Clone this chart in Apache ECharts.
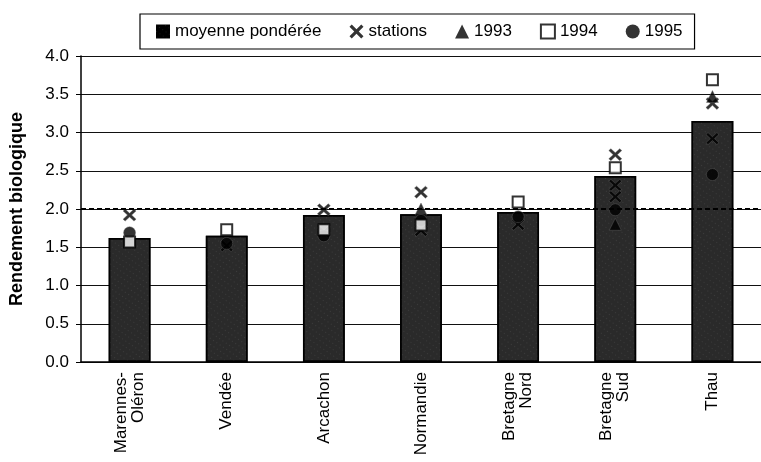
<!DOCTYPE html>
<html>
<head>
<meta charset="utf-8">
<script src="https://cdn.jsdelivr.net/npm/echarts@6/dist/echarts.min.js"></script>
<style>
  html, body { margin: 0; background: #fff; }
  #chart { width: 761px; height: 462px; }
</style>
</head>
<body>
<div id="chart"></div>
<script>
// sites
const regions = ['Marennes-\nOléron', 'Vendée', 'Arcachon', 'Normandie', 'Bretagne\nNord', 'Bretagne\nSud', 'Thau'];
// rendement moyen pondéré (barres)
const moyenne = [1.62, 1.65, 1.92, 1.93, 1.96, 2.43, 3.15];
// [site, valeur]
const stations = [[0, 1.92], [1, 1.52], [2, 1.99], [2, 1.70], [3, 2.22], [3, 1.72], [4, 1.80],
  [5, 2.71], [5, 2.31], [5, 2.16], [6, 3.38], [6, 2.92]];
const an1993 = [[3, 2.00], [5, 1.80], [6, 3.47]];
const an1994 = [[0, 1.57], [1, 1.73], [2, 1.73], [3, 1.79], [4, 2.09], [5, 2.54], [6, 3.69]];
const an1995 = [[0, 1.69], [1, 1.55], [2, 1.65], [3, 1.85], [4, 1.90], [5, 1.99], [6, 2.45]];
const seuil = 2.0;

const crossPath = 'path://M0 1.6L1.6 0L5 3.4L8.4 0L10 1.6L6.6 5L10 8.4L8.4 10L5 6.6L1.6 10L0 8.4L3.4 5Z';
const font = 'Liberation Sans, Arial, sans-serif';

const chart = echarts.init(document.getElementById('chart'));

const option = {
  animation: false,
  textStyle: { fontFamily: font, color: '#000' },
  legend: {
    left: 140,
    top: 14,
    padding: [9, 12, 9, 16],
    borderColor: '#000',
    borderWidth: 1.2,
    itemGap: 28,
    itemWidth: 14,
    itemHeight: 14,
    textStyle: { fontSize: 17, color: '#000', fontFamily: font },
    data: [
      { name: 'moyenne pondérée', icon: 'rect', itemStyle: { color: '#000', borderWidth: 0 } },
      { name: 'stations', icon: crossPath, itemStyle: { color: '#000', borderWidth: 0 } },
      { name: '1993', icon: 'triangle', itemStyle: { color: '#000', borderWidth: 0 } },
      { name: '1994', icon: 'rect', itemStyle: { color: '#fff', borderColor: '#000', borderWidth: 2 } },
      { name: '1995', icon: 'circle', itemStyle: { color: '#000', borderWidth: 0 } }
    ]
  },
  grid: { left: 81, top: 56, width: 693, height: 306 },
  xAxis: {
    type: 'category',
    data: regions,
    axisLine: { lineStyle: { color: '#000', width: 1.5 } },
    axisTick: { inside: true, length: 4, lineStyle: { color: '#000' } },
    axisLabel: {
      rotate: 90,
      margin: 10,
      fontSize: 17,
      color: '#000',
      fontFamily: font,
      lineHeight: 17
    }
  },
  yAxis: {
    type: 'value',
    min: 0,
    max: 4,
    interval: 0.5,
    name: 'Rendement biologique',
    nameLocation: 'middle',
    nameGap: 55,
    nameTextStyle: { fontSize: 18, fontWeight: 'bold', color: '#000', fontFamily: font },
    axisLine: { show: true, lineStyle: { color: '#000', width: 1.5 } },
    axisTick: { show: true, length: 5, lineStyle: { color: '#000' } },
    axisLabel: {
      margin: 12,
      fontSize: 17,
      color: '#000',
      fontFamily: font,
      formatter: v => v.toFixed(1)
    },
    splitLine: { lineStyle: { color: '#111', width: 1 } }
  },
  series: [
    {
      name: 'seuil',
      type: 'line',
      data: [],
      z: 1,
      silent: true,
      markLine: {
        symbol: 'none',
        label: { show: false },
        lineStyle: { color: '#000', type: [5, 3], width: 2 },
        data: [{ yAxis: seuil }]
      }
    },
    {
      name: 'moyenne pondérée',
      type: 'bar',
      data: moyenne,
      barWidth: '43%',
      z: 2,
      itemStyle: {
        color: '#2a2a2a',
        borderColor: '#000',
        borderWidth: 1.5,
        decal: {
          symbol: 'rect',
          symbolSize: 0.6,
          color: 'rgba(170,170,170,0.45)',
          dashArrayX: [1, 3],
          dashArrayY: [1, 4],
          rotation: 0.6
        }
      }
    },
    {
      name: 'stations',
      type: 'scatter',
      data: stations,
      symbol: crossPath,
      symbolSize: [13, 12],
      z: 3,
      itemStyle: { color: '#000', borderColor: '#666', borderWidth: 0.5 }
    },
    {
      name: '1993',
      type: 'scatter',
      data: an1993,
      symbol: 'triangle',
      symbolSize: 12,
      z: 3,
      itemStyle: { color: '#000', borderColor: '#666', borderWidth: 0.5 }
    },
    {
      name: '1994',
      type: 'scatter',
      data: an1994,
      symbol: 'rect',
      symbolSize: 11,
      z: 4,
      itemStyle: { color: '#fff', borderColor: '#000', borderWidth: 2 }
    },
    {
      name: '1995',
      type: 'scatter',
      data: an1995,
      symbol: 'circle',
      symbolSize: 12,
      z: 3,
      itemStyle: { color: '#000', borderColor: '#666', borderWidth: 0.5 }
    }
  ]
};

chart.setOption(option);
window.addEventListener('resize', () => chart.resize());
</script>
</body>
</html>
